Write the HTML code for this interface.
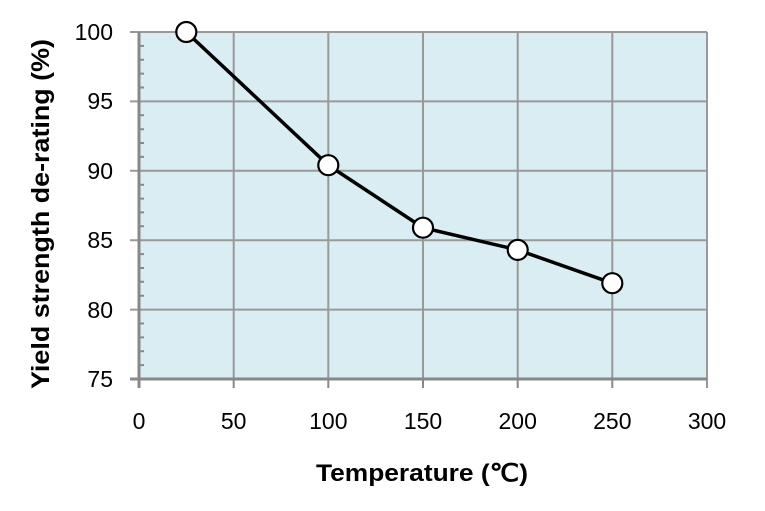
<!DOCTYPE html>
<html><head><style>body{margin:0;background:#fff}</style></head><body>
<svg width="765" height="506" xmlns="http://www.w3.org/2000/svg" font-family="Liberation Sans, sans-serif">
<rect x="139" y="32" width="568" height="347" fill="#daedf3"/>
<g stroke="#999" stroke-width="2">
<line x1="233.7" y1="32" x2="233.7" y2="379"/><line x1="328.3" y1="32" x2="328.3" y2="379"/>
<line x1="423" y1="32" x2="423" y2="379"/><line x1="517.7" y1="32" x2="517.7" y2="379"/>
<line x1="612.3" y1="32" x2="612.3" y2="379"/><line x1="707" y1="32" x2="707" y2="388"/>
<line x1="130" y1="32" x2="707" y2="32"/><line x1="130" y1="101.4" x2="707" y2="101.4"/>
<line x1="130" y1="170.8" x2="707" y2="170.8"/><line x1="130" y1="240.2" x2="707" y2="240.2"/>
<line x1="130" y1="309.6" x2="707" y2="309.6"/>
</g>
<g stroke="#888" stroke-width="3">
<line x1="139" y1="32" x2="139" y2="388"/><line x1="130" y1="379" x2="707" y2="379"/>
</g>
<g stroke="#888" stroke-width="2">
<line x1="233.7" y1="379" x2="233.7" y2="388"/><line x1="328.3" y1="379" x2="328.3" y2="388"/>
<line x1="423" y1="379" x2="423" y2="388"/><line x1="517.7" y1="379" x2="517.7" y2="388"/>
<line x1="612.3" y1="379" x2="612.3" y2="388"/>
<path d="M139 45.9h5M139 59.8h5M139 73.6h5M139 87.5h5M139 115.3h5M139 129.2h5M139 143h5M139 156.9h5M139 184.7h5M139 198.6h5M139 212.4h5M139 226.3h5M139 254.1h5M139 268h5M139 281.8h5M139 295.7h5M139 323.5h5M139 337.4h5M139 351.2h5M139 365.1h5"/>
</g>
<polyline fill="none" stroke="#000" stroke-width="3.5" points="186.3,32 328.3,165.2 423,227.7 517.7,249.9 612.3,283.2"/>
<g fill="#fff" stroke="#000" stroke-width="2.2">
<circle cx="186.3" cy="32" r="10"/><circle cx="328.3" cy="165.2" r="10"/><circle cx="423" cy="227.7" r="10"/><circle cx="517.7" cy="249.9" r="10"/><circle cx="612.3" cy="283.2" r="10"/>
</g>
<g font-size="23" text-anchor="end" fill="#000">
<text x="113" y="40">100</text><text x="113" y="109">95</text><text x="113" y="179">90</text><text x="113" y="248">85</text><text x="113" y="318">80</text><text x="113" y="387">75</text>
</g>
<g font-size="23" text-anchor="middle" fill="#000">
<text x="139" y="429">0</text><text x="233.7" y="429">50</text><text x="328.3" y="429">100</text><text x="423" y="429">150</text><text x="517.7" y="429">200</text><text x="612.3" y="429">250</text><text x="707" y="429">300</text>
</g>
<text x="422" y="481" font-size="24" font-weight="bold" text-anchor="middle" textLength="212" lengthAdjust="spacingAndGlyphs">Temperature (℃)</text>
<text transform="translate(49,214) rotate(-90)" font-size="25" font-weight="bold" text-anchor="middle" textLength="350" lengthAdjust="spacingAndGlyphs">Yield strength de-rating (%)</text>
</svg>
</body></html>
